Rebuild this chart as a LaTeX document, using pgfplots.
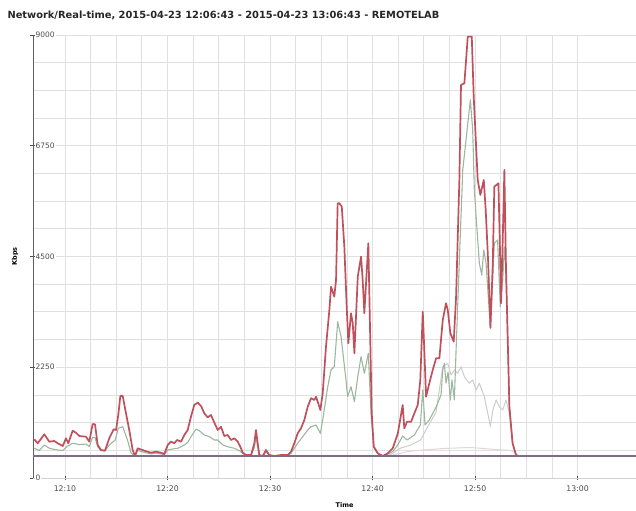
\documentclass[border=0pt]{standalone}
\usepackage{fontspec}
\setmainfont{DejaVu Sans}
\usepackage{pgfplots}
\pgfplotsset{compat=1.18}

\definecolor{totred}{HTML}{C0505C}
\definecolor{sentgreen}{HTML}{9CB79E}
\definecolor{recvgray}{HTML}{CDCDCD}
\definecolor{faintpink}{HTML}{E2D4DA}
\definecolor{basepurple}{HTML}{7D6B88}
\definecolor{gridgray}{HTML}{E0E0E0}

\begin{document}
\begin{tikzpicture}
\begin{axis}[
    name=ax,
    anchor=south west, at={(0,0)},
    scale only axis,
    width=603bp, height=443bp,
    xmin=6.88, xmax=65.7,
    ymin=0, ymax=9000,
    axis x line*=bottom, axis y line*=left,
    x axis line style={draw=gray!35, -},
    y axis line style={draw=gray!75!black, line width=0.7bp, -},
    xtick={10,20,30,40,50,60},
    xticklabels={12:10,12:20,12:30,12:40,12:50,13:00},
    minor x tick num=3,
    ytick={0,2250,4500,6750,9000},
    minor y tick num=3,
    grid=both,
    major grid style={draw=gridgray, line width=0.8bp},
    minor grid style={draw=gridgray, line width=0.8bp},
    tick align=center,
    major tick length=5bp, minor tick length=0bp,
    tick style={draw=gray!60!black, line width=0.6bp},
    /pgf/number format/assume math mode=true,
    scaled y ticks=false,
    yticklabel={\pgfmathprintnumber[fixed,1000 sep={}]{\tick}},
    xticklabel style={font=\fontsize{7.8}{9}\selectfont, text=gray!60!black, yshift=-2bp},
    yticklabel style={font=\fontsize{7.5}{9}\selectfont, text=gray!60!black, anchor=west, xshift=4bp, fill=white, inner sep=1bp},
    every axis plot/.append style={line join=round},
    clip=true,
]
% faint low series
\addplot[faintpink, line width=1bp] coordinates {
(41.5,447) (43.5,540) (45,570) (47,600) (49.5,620) (52,580) (53.5,560) (54.3,447)};

% light gray series
\addplot[recvgray, line width=1bp] coordinates {
(41.5,447) (42.78,610) (43.75,671) (44.7,772) (45.2,975) (46.2,1341) (46.85,2262)
(47.33,2330) (47.66,2093) (47.98,2194) (48.31,2127) (48.63,2262) (48.96,2058)
(49.44,1924) (49.77,1991) (50.1,1788) (50.42,1924) (50.91,1652) (51.24,1315)
(51.5,1042) (51.73,1382) (52.05,1585) (52.37,1449) (52.7,1382) (53.02,1585)
(53.35,1315) (53.66,705) (54.0,467)};

% green series
\addplot[sentgreen, line width=1.1bp] coordinates {
(7.0,603) (7.5,560) (7.98,671) (8.5,600) (9.29,569) (9.8,560) (10.2,640) (10.75,705)
(11.4,680) (12.05,690) (12.37,640) (12.7,830) (12.93,820) (13.19,636) (13.51,560)
(13.9,550) (14.32,671) (14.9,772) (15.2,1010) (15.63,1042) (16.1,772) (16.44,508)
(16.83,447) (17.09,560) (17.74,520) (18.39,490) (18.88,505) (19.37,490) (19.69,470)
(20.02,569) (20.5,590) (21.0,603) (21.64,671) (21.97,720) (22.29,839) (22.78,990)
(23.1,961) (23.59,874) (24.08,839) (24.57,772) (24.9,772) (25.39,671) (25.87,636)
(26.52,603) (27.01,555) (27.34,500) (27.66,460) (28.15,460) (28.47,620) (28.63,850)
(28.8,620) (28.96,460) (29.29,447) (29.61,530) (29.93,460) (30.42,447) (31.07,455)
(31.73,460) (32.05,502) (32.7,705) (33.68,975) (34.0,1042) (34.49,1077) (34.91,908)
(35.14,1179) (35.63,1855) (35.95,2194) (36.27,2262) (36.6,3176) (36.93,2871)
(37.41,1991) (37.57,1652) (37.9,1855) (38.23,1550) (38.56,2058) (38.88,2465)
(39.2,2127) (39.59,2534) (39.85,1315) (40.12,620) (40.51,490) (41.0,447) (41.48,480)
(41.97,540) (42.46,671) (42.94,853) (43.37,772) (44.08,874) (44.66,1077) (44.9,1788)
(45.12,1077) (45.54,1179) (46.2,1443) (46.68,1687) (46.85,2194) (47.0,2330)
(47.17,1930) (47.37,2154) (47.59,1585) (47.75,1991) (47.98,1585) (48.15,2600)
(48.47,4430) (48.8,6259) (49.12,6868) (49.54,7681) (49.77,7071) (49.93,5852)
(50.26,4836) (50.42,4363) (50.65,4125) (50.85,4633) (51.07,4369) (51.4,3347)
(51.5,3050) (51.73,4100) (51.88,4769) (52.2,4836) (52.46,3481) (52.7,4023)
(52.86,4700) (53.02,4227) (53.35,1449) (53.66,705) (54.0,467) (54.2,447)};

% red total series
\addplot[totred, line width=1.7bp] coordinates {
(7.0,786) (7.34,705) (7.98,888) (8.47,738) (8.96,752) (9.29,705) (9.78,650) (10.1,807)
(10.32,705) (10.75,961) (11.07,920) (11.4,853) (12.05,839) (12.37,738) (12.7,1097)
(12.93,1091) (13.19,671) (13.51,569) (13.9,555) (14.32,807) (14.75,990) (14.98,975)
(15.2,1280) (15.4,1666) (15.63,1666) (15.95,1315) (16.27,975) (16.6,569) (16.83,447)
(17.09,603) (17.74,555) (18.39,514) (18.88,534) (19.37,514) (19.69,488) (20.02,671)
(20.34,738) (20.66,705) (20.93,772) (21.32,738) (21.64,874) (21.97,975) (22.29,1246)
(22.61,1483) (22.95,1530) (23.27,1463) (23.59,1315) (23.92,1233) (24.24,1280)
(24.57,1124) (24.9,975) (25.22,1042) (25.54,853) (25.87,874) (26.2,772) (26.52,807)
(26.85,738) (27.1,636) (27.34,514) (27.66,467) (28.15,467) (28.47,705) (28.63,975)
(28.8,705) (28.96,467) (29.29,447) (29.61,569) (29.93,467) (30.42,447) (31.07,467)
(31.73,467) (32.05,534) (32.37,705) (32.7,908) (33.02,1010) (33.35,1179) (33.68,1449)
(34.0,1620) (34.32,1585) (34.49,1652) (34.65,1550) (34.91,1382) (35.14,1721)
(35.46,2668) (35.79,3414) (35.95,3887) (36.27,3684) (36.44,4023) (36.6,5582)
(36.76,5582) (37.0,5513) (37.25,4700) (37.48,3481) (37.64,2737) (37.9,3347)
(38.07,3144) (38.23,2534) (38.56,4090) (38.88,4497) (39.04,4023) (39.2,3347)
(39.59,4769) (39.79,2668) (39.92,1315) (40.12,636) (40.51,502) (41.0,447) (41.48,502)
(41.97,603) (42.46,900) (42.94,1483) (43.1,1010) (43.37,1144) (43.76,1144)
(44.08,1315) (44.41,1483) (44.66,1991) (44.9,3379) (45.05,2601) (45.22,1652)
(45.54,1924) (45.87,2194) (46.2,2432) (46.52,2432) (46.85,3211) (47.17,3550)
(47.34,3414) (47.59,2940) (47.92,2770) (48.15,3684) (48.47,6055) (48.63,7986)
(48.96,8020) (49.29,8967) (49.68,8967) (49.87,7748) (50.26,6055) (50.52,5750)
(50.85,6055) (51.04,5446) (51.27,4430) (51.5,3050) (51.73,4363) (51.88,5919)
(52.28,5988) (52.41,4836) (52.54,3550) (52.7,4836) (52.86,6259) (53.02,4227)
(53.35,1449) (53.66,705) (54.0,467) (54.2,447)};

% flat baseline
\addplot[basepurple, line width=1.2bp] coordinates {(6.88,447) (65.7,447)};
\end{axis}

\node[anchor=base west, font=\fontsize{9.9}{12}\selectfont\bfseries, text=black!85]
  at ([xshift=-29bp, yshift=16bp]ax.north west)
  {Network/Real-time, 2015-04-23 12:06:43 - 2015-04-23 13:06:43 - REMOTELAB};
\node[rotate=90, font=\fontsize{6.5}{7}\selectfont\bfseries]
  at ([xshift=-18bp]ax.west) {Kbps};
\node[font=\fontsize{6.5}{7}\selectfont\bfseries]
  at ([xshift=10bp, yshift=-27bp]ax.south) {Time};

\pgfresetboundingbox
\path ([xshift=-33bp, yshift=-33bp]ax.south west) rectangle ([yshift=35bp]ax.north east);
\end{tikzpicture}
\end{document}
